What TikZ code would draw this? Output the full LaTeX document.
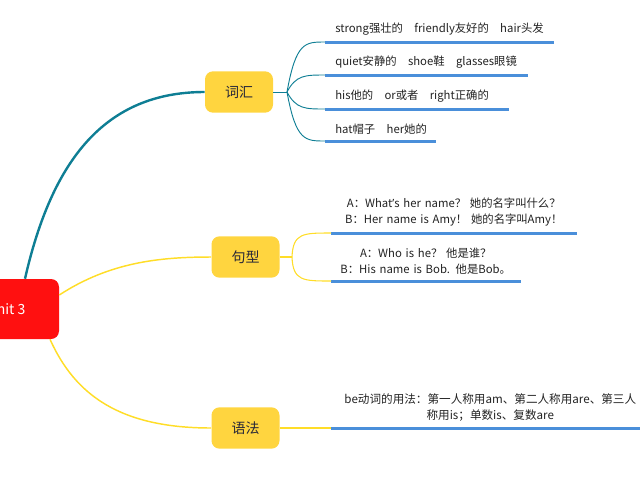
\documentclass[tikz,border=0pt]{standalone}
\usepackage{fontspec}
\setmainfont{Noto Sans CJK SC}
\newfontfamily\latinf{Noto Sans}
\usetikzlibrary{calc}
\definecolor{hubred}{RGB}{255,16,16}
\definecolor{topicyellow}{RGB}{255,213,63}
\definecolor{tealline}{RGB}{14,126,148}
\definecolor{yline}{RGB}{255,221,40}
\definecolor{ublue}{RGB}{74,143,218}
\definecolor{txt}{RGB}{34,34,34}
\definecolor{topictxt}{RGB}{40,40,56}
\begin{document}
\begin{tikzpicture}[x=0.75pt,y=-0.75pt,
  hub/.style={fill=hubred, rounded corners=6pt, minimum width=79.5pt, minimum height=45pt, text=white, font=\fontsize{10.5pt}{12pt}\selectfont, inner sep=0pt},
  topic/.style={fill=topicyellow, rounded corners=6pt, minimum width=51pt, minimum height=31pt, text=topictxt, font=\fontsize{10.5pt}{12pt}\selectfont, inner sep=0pt},
  leaf/.style={anchor=south west, font=\fontsize{8.5pt}{12pt}\selectfont, text=txt, inner ysep=5pt},
  vleaf/.style={leaf, inner xsep=7.5pt, align=left},
  cleaf/.style={leaf, inner xsep=0pt, align=center},
  uline/.style={draw=ublue, line width=2.25pt},
  tmain/.style={draw=tealline, line width=1.8pt},
  tsub/.style={draw=tealline, line width=0.7pt},
  ymain/.style={draw=yline, line width=1.1pt},
  ysub/.style={draw=yline, line width=0.8pt},
]
\useasboundingbox (0,0) rectangle (640,480);
\clip (0,0) rectangle (640,480);

% main nodes
\node[hub] (c) at (6,309) {Unit 3};
\node[topic] (v) at (239,92) {词汇};
\node[topic] (s) at (245.5,257) {句型};
\node[topic] (g) at (245.5,428) {语法};

% vocabulary leaves
\node[vleaf, text width=156pt] (l1) at (325,42) {\mbox{strong强壮的\quad friendly友好的\quad hair头发}};
\node[vleaf, text width=136.5pt] (l2) at (325,75) {\mbox{quiet安静的\quad shoe鞋\quad glasses眼镜}};
\node[vleaf, text width=122.25pt] (l3) at (325,109) {\mbox{his他的\quad or或者\quad right正确的}};
\node[vleaf, text width=67.5pt] (l4) at (325,141) {\mbox{hat帽子\quad her她的}};

% sentence leaves
\node[cleaf, text width=183.75pt] (s1) at (331,233) {A：What{\latinf ’}s her name？ 她的名字叫什么？\\B：Her name is Amy！ 她的名字叫Amy！};
\node[cleaf, text width=141.75pt] (s2) at (331,281) {A：Who is he？ 他是谁？\\B：His name is Bob. 他是Bob。};

% grammar leaf
\node[cleaf, text width=238.5pt, font=\fontsize{8.7pt}{12pt}\selectfont] (g1) at (331,428) {be动词的用法：第一人称用am、第二人称用are、第三人\\称用is；单数is、复数are};

% underlines
\foreach \n in {l1,l2,l3,l4,s1,s2,g1}
  \draw[uline] (\n.south west) -- (\n.south east);

% main connectors
\draw[tmain] ($(c.north)+(19,0)$) .. controls (52,160) and (105,92) .. (v.west);
\draw[ymain] ($(c.east)+(0,-14)$) .. controls (110,262) and (160,257) .. (s.west);
\draw[ymain] ($(c.south)+(44,0)$) .. controls (75,395) and (120,428) .. (g.west);

% vocabulary sub-connectors
\coordinate (vj) at (287,92);
\coordinate (vc1) at (296,0);
\coordinate (vc2) at (305,0);
\draw[tsub] (v.east) -- (vj);
\foreach \n in {l1,l2,l3,l4}
  \draw[tsub] (vj) .. controls (vc1 |- \n.south west) and (vc2 |- \n.south west) .. (\n.south west);

% sentence sub-connectors
\coordinate (sj) at (292,257);
\coordinate (sc1) at (293,0);
\coordinate (sc2) at (303,0);
\draw[ysub] (s.east) -- (sj);
\foreach \n in {s1,s2}
  \draw[ysub] (sj) .. controls (sc1 |- \n.south west) and (sc2 |- \n.south west) .. (\n.south west);

% grammar sub-connector
\draw[ysub] (g.east) -- (g1.south west);
\end{tikzpicture}
\end{document}
